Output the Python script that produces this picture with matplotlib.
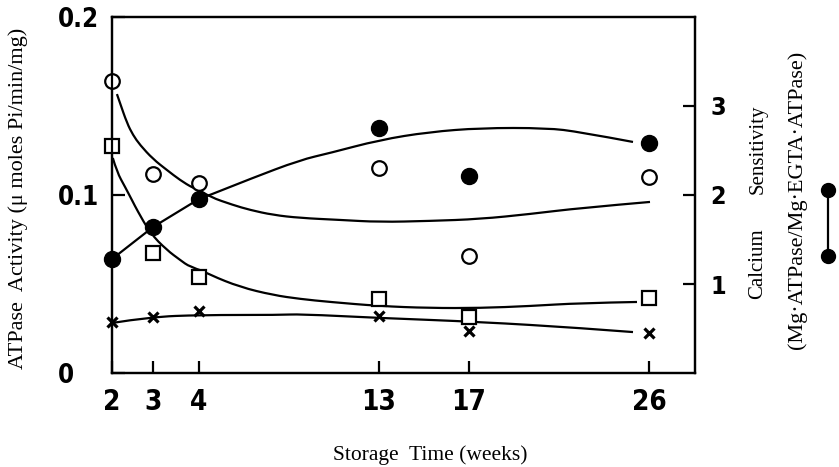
import numpy as np
import matplotlib
matplotlib.use("Agg")
import matplotlib.pyplot as plt
from matplotlib.lines import Line2D
from matplotlib.path import Path
from matplotlib.patches import PathPatch

# ---------------- data ----------------
weeks = [2, 3, 4, 13, 17, 26]
tick_labels = ["2", "3", "4", "13", "17", "26"]

open_circle = [0.164, 0.112, 0.107, 0.115, 0.066, 0.110]      # ATPase activity
squares = [0.1275, 0.0675, 0.054, 0.0415, 0.0315, 0.042]
crosses = [0.0287, 0.0315, 0.0348, 0.032, 0.0236, 0.0225]
filled_circle = [1.28, 1.64, 1.955, 2.75, 2.21, 2.58]          # Calcium sensitivity (right axis)

# hand-drawn fit curves
open_fit_weeks = [2.12, 2.195, 2.366, 2.512, 2.683, 3.0, 3.304, 3.587, 3.87, 4.55, 5.7,
                  6.55, 7.7, 9.05, 11.05, 13.02, 15.22, 17.55, 20.05, 22.55, 26.05]
open_fit_vals = [0.1567, 0.1517, 0.1404, 0.1337, 0.1281, 0.1202, 0.1140, 0.1084, 0.1039,
                 0.0989, 0.0944, 0.0916, 0.0888, 0.0871, 0.0860, 0.0848, 0.0854, 0.0865,
                 0.0893, 0.0927, 0.0961]

square_fit_weeks = [2.02, 2.12, 2.32, 2.51, 2.61, 2.93, 3.30, 3.59, 3.80, 4.55, 6.05,
                    7.7, 9.05, 10.55, 13.02, 15.22, 17.55, 20.05, 22.55, 25.4]
square_fit_vals = [0.1208, 0.1129, 0.1045, 0.0961, 0.0916, 0.0787, 0.0691, 0.0635, 0.0596,
                   0.0551, 0.0483, 0.0438, 0.0416, 0.0399, 0.0376, 0.0365, 0.0365, 0.0376,
                   0.0393, 0.0399]

cross_fit_weeks = [2.0, 2.93, 4.05, 8.05, 9.05, 13.02, 17.55, 22.55, 25.2]
cross_fit_vals = [0.0281, 0.0315, 0.0326, 0.0326, 0.0331, 0.0309, 0.0287, 0.0253, 0.0230]

filled_fit_weeks = [2, 3, 4, 4.55, 6.55, 9.05, 10.55, 13.02, 15.22, 17.55, 20.9, 22.55, 25.2]
filled_fit_vals = [1.28, 1.64, 1.955, 2.0, 2.18, 2.393, 2.472, 2.618, 2.708, 2.753, 2.753,
                   2.708, 2.596]

# piecewise axis scale of the original drawing (week -> relative distance)
scale_weeks = [2, 3, 4, 13, 17, 26, 30]
scale_dist = [0, 41, 87, 267, 357, 537, 617]


def fwd(x):
    return np.interp(x, scale_weeks, scale_dist)


def inv(y):
    return np.interp(y, scale_dist, scale_weeks)


def smooth_curve(axis, xs, ys, **kw):
    """Draw a smooth quadratic-Bezier path with the read points as control points."""
    pts = list(zip(xs, ys))
    verts = [pts[0]]
    codes = [Path.MOVETO]
    for i in range(1, len(pts) - 1):
        (x0, y0), (x1, y1) = pts[i], pts[i + 1]
        end = ((x0 + x1) / 2, (y0 + y1) / 2) if i < len(pts) - 2 else (x1, y1)
        verts += [pts[i], end]
        codes += [Path.CURVE3, Path.CURVE3]
    axis.add_patch(PathPatch(Path(verts, codes), fill=False, **kw))


# ---------------- figure ----------------
W, H = 839, 467
fig = plt.figure(figsize=(W / 100, H / 100), dpi=100)
ax = fig.add_axes([112 / W, 1 - 373 / H, (695 - 112) / W, (373 - 17) / H])
ax2 = ax.twinx()

ax.set_xscale("function", functions=(fwd, inv))
ax.set_xlim(2, 28.3)
ax.set_ylim(0, 0.2)
ax2.set_ylim(0, 4)

lw = 1.6
k = "black"
# curves
smooth_curve(ax, open_fit_weeks, open_fit_vals, ec=k, lw=lw, zorder=2)
smooth_curve(ax, square_fit_weeks, square_fit_vals, ec=k, lw=lw, zorder=2)
smooth_curve(ax, cross_fit_weeks, cross_fit_vals, ec=k, lw=lw, zorder=2)
ax2.plot(filled_fit_weeks[:3], filled_fit_vals[:3], color=k, lw=lw, zorder=2)
smooth_curve(ax2, filled_fit_weeks[2:], filled_fit_vals[2:], ec=k, lw=lw, zorder=2)

# markers
ax.plot(weeks, open_circle, ls="none", marker="o", ms=10.5, mfc="white", mec=k, mew=1.6,
        zorder=5, clip_on=False)
ax.plot(weeks, squares, ls="none", marker="s", ms=10, mfc="white", mec=k, mew=1.6,
        zorder=5, clip_on=False)
ax.plot(weeks, crosses, ls="none", marker="x", ms=7.5, mec=k, mew=2.3, zorder=5,
        clip_on=False)
ax2.plot(weeks, filled_circle, ls="none", marker="o", ms=11.5, mfc=k, mec=k,
         zorder=5, clip_on=False)

# ticks
tick_font = dict(family="DejaVu Sans", fontstretch="condensed", fontweight="bold")
ax.set_xticks(weeks)
ax.set_xticklabels(tick_labels, fontsize=20, **tick_font)
ax.xaxis.set_minor_locator(matplotlib.ticker.NullLocator())
ax.set_yticks([0, 0.1, 0.2])
ax.set_yticklabels(["0", "0.1", "0.2"], fontsize=18.5, **tick_font)
for lab in ax.get_yticklabels():
    lab.set_horizontalalignment("left")
ax.tick_params(axis="x", direction="in", length=9, width=1.6, pad=11)
ax.tick_params(axis="y", direction="in", length=9, width=1.6, pad=39)
ax2.set_yticks([1, 2, 3])
ax2.set_yticklabels(["1", "2", "3"], fontsize=18, **tick_font)
ax2.tick_params(axis="y", direction="in", length=9, width=1.6, pad=11)

for a in (ax, ax2):
    for s in a.spines.values():
        s.set_linewidth(1.6)

# labels
serif = "Liberation Serif"
fig.text(430 / W, 1 - 455 / H, "Storage  Time (weeks)", family=serif, fontsize=15.5,
         ha="center", va="center")
fig.text(18 / W, 1 - 198 / H, "ATPase  Activity (\u03bc moles Pi/min/mg)", family=serif,
         fontsize=16, rotation=90, ha="center", va="center")
fig.text(758 / W, 1 - 149 / H, "Sensitivity", family=serif, fontsize=15,
         rotation=90, ha="center", va="center")
fig.text(758 / W, 1 - 264 / H, "Calcium", family=serif, fontsize=15,
         rotation=90, ha="center", va="center")
fig.text(797 / W, 1 - 200 / H, "(Mg\u00b7ATPase/Mg\u00b7EGTA\u00b7ATPase)", family=serif,
         fontsize=16, rotation=90, ha="center", va="center")

# legend key (filled circle — line — filled circle, vertical)
fig.add_artist(Line2D([828 / W, 828 / W], [1 - 190 / H, 1 - 256 / H], color=k, lw=1.6,
                      marker="o", ms=10, mfc=k, mec=k, transform=fig.transFigure))

fig.savefig("out.png", dpi=100)
